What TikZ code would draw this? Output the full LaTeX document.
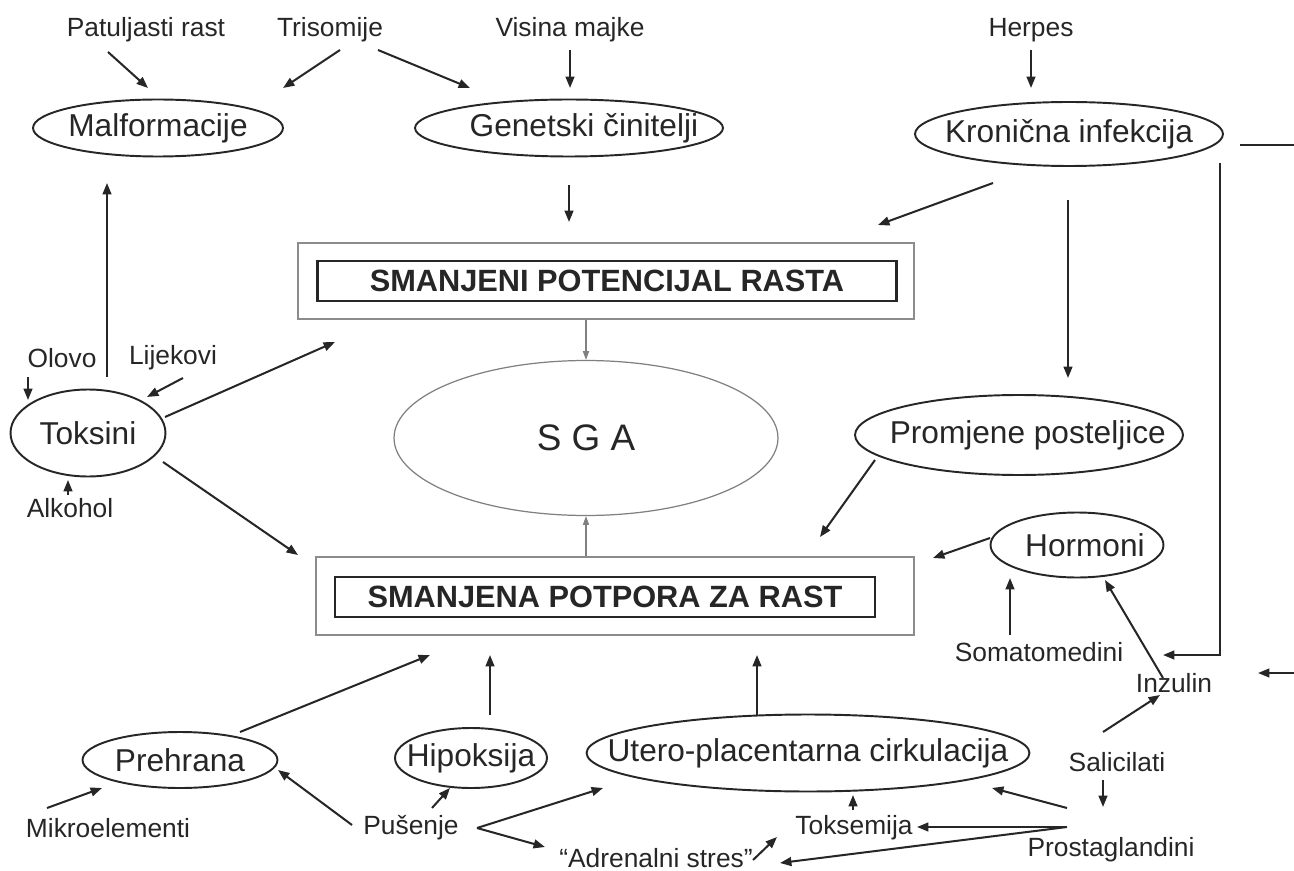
\documentclass[tikz,border=0pt]{standalone}
\usepackage{fontspec}
\setmainfont{Liberation Sans}
\usetikzlibrary{shapes.geometric,arrows.meta,calc}

\begin{document}
\begin{tikzpicture}[x=0.02cm,y=-0.02cm,
  lbl/.style={inner sep=0pt,text=black!85,font=\fontsize{15}{18}\selectfont},
  oval/.style={ellipse,draw=black!85,line width=1.1pt,inner sep=0pt,text=black!85,font=\fontsize{18}{21}\selectfont},
  outerbox/.style={draw=black!45,line width=1pt,inner sep=0pt},
  innerbox/.style={draw=black!85,line width=1.4pt,inner sep=0pt,text=black!85,font=\fontsize{17.5}{20}\selectfont\bfseries},
  arr/.style={draw=black!85,line width=1.15pt,-{Triangle[length=6.5pt,width=5pt]}},
  garr/.style={draw=black!50,line width=0.7pt,-{Triangle[length=5pt,width=3.5pt]}}]
\newcommand{\zw}[1]{\makebox[0pt]{#1}}
\useasboundingbox (0,0) rectangle (1294,871);

% top row
\node[lbl] (pat) at (146,30) {Patuljasti rast};
\node[lbl] (tri) at (330,30) {Trisomije};
\node[lbl] (vis) at (570,30) {Visina majke};
\node[lbl] (her) at (1031,30) {Herpes};
\node[oval,minimum width=5cm,minimum height=1.14cm] (mal) at (158,128) {\zw{Malformacije}};
\node[oval,minimum width=6.16cm,minimum height=1.14cm] (gen) at (569,128) {\zw{\hspace{17pt}Genetski činitelji}};
\node[oval,minimum width=6.16cm,minimum height=1.28cm] (kro) at (1069,134) {\zw{Kronična infekcija}};

% centre
\node[outerbox,minimum width=12.32cm,minimum height=1.52cm] (box1) at (606,281) {};
\node[innerbox,minimum width=11.58cm,minimum height=0.8cm] (box1in) at (607,281) {SMANJENI POTENCIJAL RASTA};
\node[ellipse,draw=black!50,line width=0.7pt,minimum width=7.68cm,minimum height=3.1cm,
  text=black!85,font=\fontsize{21}{25}\selectfont] (sga) at (586,438) {S G A};
\node[outerbox,minimum width=11.96cm,minimum height=1.56cm] (box2) at (615,596) {};
\node[innerbox,minimum width=10.8cm,minimum height=0.8cm] (box2in) at (605,597) {SMANJENA POTPORA ZA RAST};

% left
\node[oval,minimum width=3.1cm,minimum height=1.74cm] (tox) at (88,433) {\zw{Toksini}};
\node[lbl] (olo) at (62,358) {Olovo};
\node[lbl] (lij) at (173,358) {Lijekovi};
\node[lbl] (alk) at (70,508) {Alkohol};

% right
\node[oval,minimum width=6.56cm,minimum height=1.6cm] (pro) at (1019,435) {\zw{\hspace{10pt}Promjene posteljice}};
\node[oval,minimum width=3.46cm,minimum height=1.3cm] (hor) at (1077,545) {\zw{\hspace{9pt}Hormoni}};
\node[lbl] (som) at (1039,652) {Somatomedini};
\node[lbl] (inz) at (1174,683) {Inzulin};
\node[lbl] (sal) at (1117,762) {Salicilati};
\node[lbl] (pgl) at (1111,850) {Prostaglandini};
\coordinate (edgeA) at (1294,145);
\coordinate (edgeB) at (1294,673);

% bottom row
\node[oval,minimum width=8.86cm,minimum height=1.54cm] (uter) at (808,753) {\zw{Utero-placentarna cirkulacija}};
\node[oval,minimum width=3.04cm,minimum height=1.2cm] (hip) at (471,758) {\zw{Hipoksija}};
\node[oval,minimum width=3.9cm,minimum height=1.12cm] (pre) at (180,760) {\zw{Prehrana}};
\node[lbl] (mik) at (108,828) {Mikroelementi};
\node[lbl] (pus) at (411,828) {Pušenje};
\node[lbl] (tok) at (854,828) {Toksemija};
\node[lbl] (adr) at (656,858) {“Adrenalni stres”};

% arrows
\draw[arr] ($(pat)+(-38,22)$) -- ($(mal)+(-10,-40)$);
\draw[arr] ($(tri)+(10,20)$) -- ($(mal)+(125,-40)$);
\draw[arr] ($(tri)+(48,20)$) -- ($(gen)+(-99,-40)$);
\draw[arr] ($(vis)+(0,20)$) -- ($(gen)+(1,-40)$);
\draw[arr] ($(her)+(0,20)$) -- ($(kro)+(-38,-46)$);
\draw[arr] ($(gen)+(0,57)$) -- ($(box1)+(-37,-59)$);
\draw[arr] ($(kro)+(-76,49)$) -- ($(box1)+(272,-56)$);
\draw[arr] ($(kro)+(-1,66)$) -- ($(pro)+(49,-57)$);
\draw[arr] ($(kro)+(151,29)$) |- ($(inz)+(-11,-28)$);
\draw[draw=black!85,line width=1.15pt] ($(kro)+(171,11)$) -- (edgeA);
\draw[arr] (edgeB) -- ($(inz)+(84,-10)$);
\draw[garr] (sga.north |- box1.south) -- (sga.north);
\draw[garr] (sga.south |- box2.north) -- (sga.south);
\draw[arr] ($(tox)+(19,-56)$) -- ($(mal)+(-51,55)$);
\draw[arr] ($(olo)+(-34,19)$) -- ($(tox)+(-60,-33)$);
\draw[arr] ($(lij)+(10,20)$) -- ($(tox)+(59,-36)$);
\draw[arr] ($(alk)+(-2,-13)$) -- ($(tox)+(-20,47)$);
\draw[arr] ($(tox)+(77,-16)$) -- ($(box1)+(-271,61)$);
\draw[arr] ($(tox)+(75,29)$) -- ($(box2)+(-317,-41)$);
\draw[arr] ($(pro)+(-144,25)$) -- ($(box2)+(205,-59)$);
\draw[arr] ($(hor)+(-87,-7)$) -- ($(box2)+(318,-38)$);
\draw[arr] ($(som)+(-29,-17)$) -- ($(hor)+(-67,33)$);
\draw[arr] ($(inz)+(-11,-5)$) -- ($(hor)+(28,35)$);
\draw[arr] ($(sal)+(-14,-30)$) -- ($(inz)+(-14,12)$);
\draw[arr] ($(sal)+(-14,18)$) -- ($(pgl)+(-8,-43)$);
\draw[arr] ($(pgl)+(-44,-42)$) -- ($(uter)+(184,35)$);
\draw[arr] ($(pgl)+(-44,-23)$) -- ($(tok)+(63,-1)$);
\draw[arr] ($(pgl)+(-44,-23)$) -- ($(adr)+(124,5)$);
\draw[arr] ($(tok)+(-1,-18)$) -- ($(uter)+(45,42)$);
\draw[arr] ($(uter)+(-51,-38)$) -- ($(box2)+(142,59)$);
\draw[arr] ($(hip)+(19,-43)$) -- ($(box2)+(-125,59)$);
\draw[arr] ($(pre)+(60,-28)$) -- ($(box2)+(-185,59)$);
\draw[arr] ($(mik)+(-61,-20)$) -- ($(pre)+(-78,28)$);
\draw[arr] ($(pus)+(-59,-3)$) -- ($(pre)+(98,10)$);
\draw[arr] ($(pus)+(21,-20)$) -- ($(hip)+(-21,30)$);
\draw[arr] ($(pus)+(66,0)$) -- ($(uter)+(-205,35)$);
\draw[arr] ($(pus)+(66,0)$) -- ($(adr)+(-111,-11)$);
\draw[arr] ($(adr)+(97,2)$) -- ($(tok)+(-77,9)$);
\end{tikzpicture}
\end{document}
